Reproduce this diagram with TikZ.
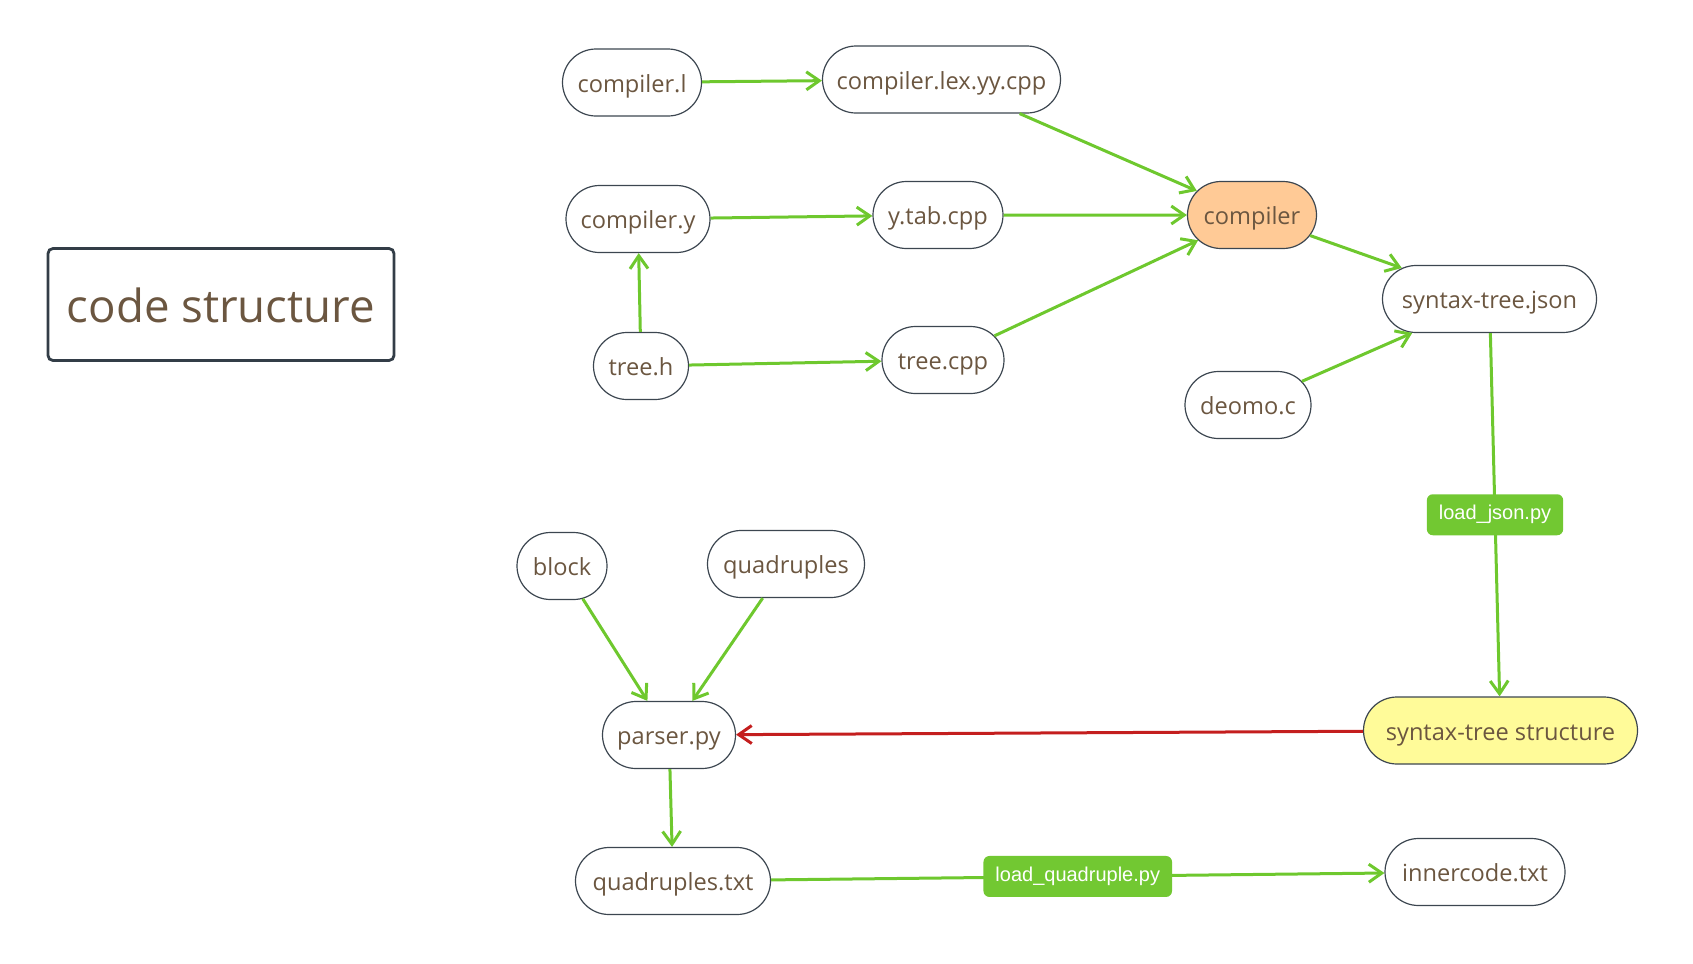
\documentclass[tikz,border=0pt]{standalone}
\usepackage{fontspec}
\setmainfont{Open Sans}
\newfontfamily\labelfont{Liberation Sans}
\usetikzlibrary{shapes.misc,arrows.meta}
\definecolor{txt}{HTML}{6B5640}
\definecolor{bord}{HTML}{3C4650}
\definecolor{tbord}{HTML}{333D47}
\definecolor{grn}{HTML}{6EC82E}
\definecolor{lblgrn}{HTML}{72C832}
\definecolor{redl}{HTML}{C41E1E}
\definecolor{orangef}{HTML}{FFCA96}
\definecolor{yellowf}{HTML}{FFFB99}
\begin{document}
\begin{tikzpicture}[x=0.5pt,y=-0.5pt,
  file/.style={rounded rectangle, draw=bord, line width=0.6pt, minimum height=33.5pt,
    inner xsep=2pt, inner ysep=0pt, minimum width=#1+3.5pt, text height=12.5pt, text depth=2.8pt,
    font=\fontsize{11.8}{14}\selectfont, text=txt},
  title/.style={rectangle, rounded corners=2.5pt, draw=tbord, line width=1.4pt,
    minimum width=173pt, minimum height=56pt, text height=23.8pt, text depth=5.5pt,
    font=\fontsize{22.8}{27}\selectfont, text=txt},
  lbl/.style={rectangle, rounded corners=3pt, fill=lblgrn, text=white, inner xsep=6pt,
    minimum height=20.5pt, font=\labelfont\fontsize{10}{12}\selectfont},
  edge/.style={draw=grn, line width=1.5pt, -{Straight Barb[length=6.5pt,width=9pt]}},
  rededge/.style={draw=redl, line width=1.5pt, -{Straight Barb[length=6.5pt,width=9pt]}}
]
\useasboundingbox (0,0) rectangle (1693,964);

\node[title] (t) at (221,304.5) {code structure};

\node[file=70pt] (cl) at (632,82.5) {compiler.l};
\node[file=119.5pt] (lex) at (941.5,79.5) {compiler.lex.yy.cpp};
\node[file=72.5pt] (cy) at (638,219) {compiler.y};
\node[file=65.5pt] (ytab) at (938,215) {y.tab.cpp};
\node[file=65pt, fill=orangef] (comp) at (1252,215) {compiler};
\node[file=107.5pt] (json) at (1489.5,299) {syntax-tree.json};
\node[file=48pt] (th) at (641,366) {tree.h};
\node[file=61.5pt] (tcpp) at (943,360) {tree.cpp};
\node[file=63.5pt] (deomo) at (1248,405) {deomo.c};
\node[file=45.5pt] (block) at (562,566) {block};
\node[file=79pt] (quad) at (786,564) {quadruples};
\node[file=67pt] (parser) at (669,735) {parser.py};
\node[file=137.5pt, fill=yellowf] (struct) at (1500.5,730.5) {syntax-tree structure};
\node[file=98pt] (qtxt) at (673,881) {quadruples.txt};
\node[file=90.5pt] (inner) at (1475,872) {innercode.txt};

\draw[edge] (cl) -- (lex);
\draw[edge] (lex) -- (comp);
\draw[edge] (cy) -- (ytab);
\draw[edge] (ytab) -- (comp);
\draw[edge] (tcpp) -- (comp);
\draw[edge] (th) -- (cy);
\draw[edge] (th) -- (tcpp);
\draw[edge] (comp) -- (json);
\draw[edge] (deomo) -- (json);
\draw[edge] (json) -- node[lbl] (lj) {load\_json.py} (struct);
\draw[edge] (block) -- (parser);
\draw[edge] (quad) -- (parser);
\draw[rededge] (struct) -- (parser);
\draw[edge] (parser) -- (qtxt);
\draw[edge] (qtxt) -- node[lbl] (lq) {load\_quadruple.py} (inner);
\end{tikzpicture}
\end{document}
